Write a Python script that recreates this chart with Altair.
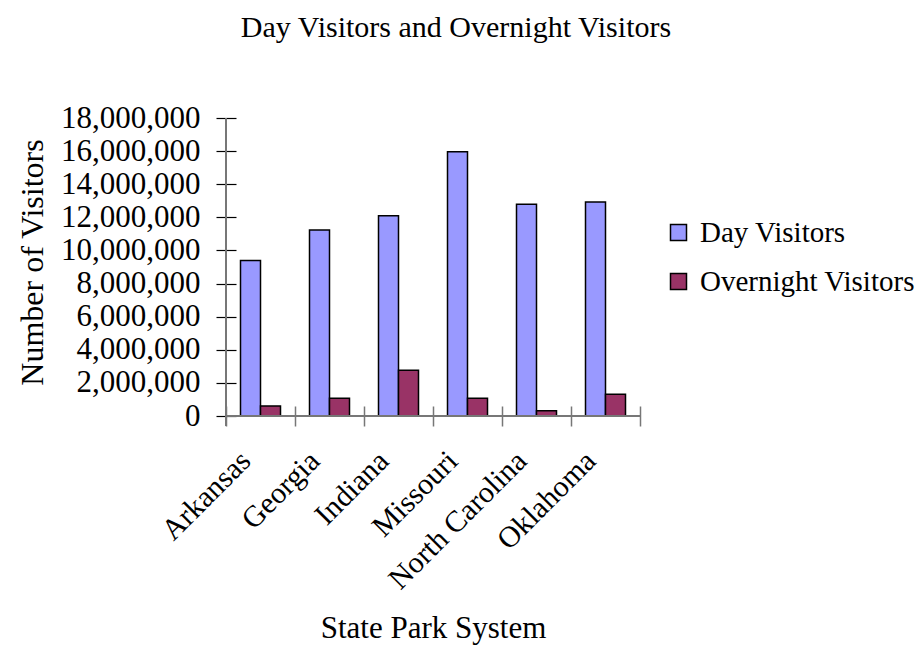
import altair as alt
import pandas as pd

states = ["Arkansas", "Georgia", "Indiana", "Missouri", "North Carolina", "Oklahoma"]
day_visitors = [9400000, 11240000, 12090000, 15960000, 12790000, 12930000]
overnight_visitors = [610000, 1070000, 2760000, 1070000, 320000, 1310000]
series = ["Day Visitors", "Overnight Visitors"]
colors = ["#9999FF", "#993366"]
y_ticks = list(range(0, 18000001, 2000000))

rows = []
for s, d, o in zip(states, day_visitors, overnight_visitors):
    rows.append({"state": s, "series": series[0], "value": d})
    rows.append({"state": s, "series": series[1], "value": o})
df = pd.DataFrame(rows)
ticks_df = pd.DataFrame({"t": y_ticks})

FONT = "Liberation Serif"
W, H = 414, 298
LEFT, TOP = 226, 118

bars = alt.Chart(df).mark_bar(stroke="black", strokeWidth=1.5).encode(
    x=alt.X("state:N", sort=states, title="State Park System",
            scale=alt.Scale(paddingInner=0, paddingOuter=0),
            axis=alt.Axis(labelAngle=-45, labelAlign="right", labelBaseline="middle",
                          labelFont=FONT, labelFontSize=30, labelColor="black",
                          labelPadding=30, labelOffset=-15,
                          tickBand="extent", tickSize=20, tickColor="#777777", tickWidth=1.5,
                          offset=-10, domain=False, labelOverlap=False, labelLimit=400,
                          titleFont=FONT, titleFontSize=31, titleFontWeight="normal",
                          titleColor="black", titleY=231, titleBaseline="alphabetic")),
    xOffset=alt.XOffset("series:N", sort=series,
                        scale=alt.Scale(paddingInner=0, paddingOuter=0.725)),
    y=alt.Y("value:Q", title="Number of Visitors",
            scale=alt.Scale(domain=[0, 18000000], nice=False),
            axis=alt.Axis(values=y_ticks, format=",d", labelFont=FONT, labelFontSize=31,
                          labelColor="black", labelPadding=16, tickSize=20,
                          tickColor="black", tickWidth=1.2, offset=-10, domain=False,
                          grid=False,
                          titleFont=FONT, titleFontSize=32, titleFontWeight="normal",
                          titleColor="black", titleX=-204, titleY=144,
                          titleBaseline="middle", titleAngle=-90)),
    color=alt.Color("series:N", sort=series,
                    scale=alt.Scale(domain=series, range=colors),
                    legend=alt.Legend(title=None, orient="none", legendX=438, legendY=100,
                                      symbolType="square", symbolSize=256,
                                      symbolStrokeColor="black", symbolStrokeWidth=1.5,
                                      labelFont=FONT, labelFontSize=29, labelColor="black",
                                      labelOffset=7, rowPadding=19, labelLimit=400)),
)

ydomain = alt.Chart(ticks_df).mark_rule(color="#777777", strokeWidth=1.5).encode(
    x=alt.value(0), y=alt.value(0), y2=alt.value(H + 10))
xdomain = alt.Chart(ticks_df).mark_rule(color="#777777", strokeWidth=1.5).encode(
    x=alt.value(0), x2=alt.value(W), y=alt.value(H))

chart = alt.layer(bars, ydomain, xdomain).properties(
    width=W, height=H,
    title=alt.TitleParams("Day Visitors and Overnight Visitors", font=FONT, fontSize=30,
                          fontWeight="normal", color="black", anchor="middle",
                          offset=59, dx=23),
    autosize=alt.AutoSizeParams(type="none"),
    padding={"left": LEFT, "top": TOP, "right": 920 - LEFT - W, "bottom": 653 - TOP - H},
).configure_view(stroke=None)

chart.save("out.html", embed_options={"renderer": "svg", "actions": False})
